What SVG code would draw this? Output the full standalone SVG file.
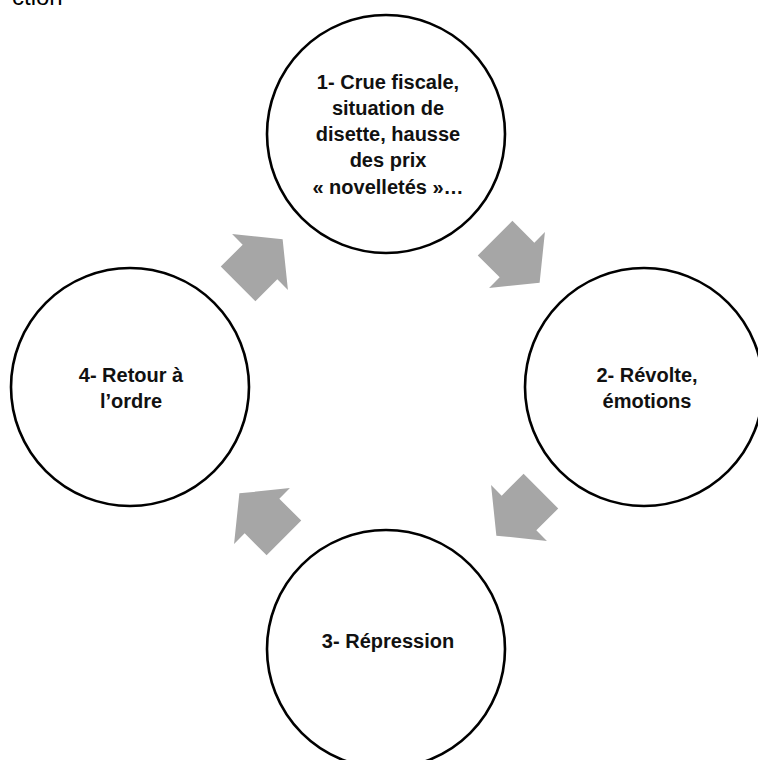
<svg xmlns="http://www.w3.org/2000/svg" width="758" height="760" viewBox="0 0 758 760">
<defs>
<style>
.node circle{fill:#fff;stroke:#000;stroke-width:2.6}
.lbl{font-family:"Liberation Sans",Arial,sans-serif;font-weight:bold;font-size:20px;fill:#111;text-anchor:middle}
.arr{fill:#A6A6A6}
</style>
<path id="blk" d="M-31,-24.5 L0,-24.5 L0,-39.5 L32,0 L0,39.5 L0,24.5 L-31,24.5 Z"/>
</defs>
<rect width="758" height="760" fill="#fff"/>
<text x="12" y="5" font-family="Liberation Sans,Arial,sans-serif" font-size="24" fill="#000">ction</text>
<g id="connectors" class="arr">
<use href="#blk" transform="translate(260,262) rotate(-45)"/>
<use href="#blk" transform="translate(517,260) rotate(45)"/>
<use href="#blk" transform="translate(519,513) rotate(135)"/>
<use href="#blk" transform="translate(262,516) rotate(-135)"/>
</g>
<g id="node1" class="node">
<circle cx="386" cy="134" r="119"/>
<text class="lbl"><tspan x="388" y="89">1- Crue fiscale,</tspan><tspan x="388" y="115">situation de</tspan><tspan x="388" y="141">disette, hausse</tspan><tspan x="388" y="167">des prix</tspan><tspan x="388" y="194">« novelletés »…</tspan></text>
</g>
<g id="node2" class="node">
<circle cx="644" cy="387" r="119"/>
<text class="lbl"><tspan x="647" y="382">2- Révolte,</tspan><tspan x="647" y="408">émotions</tspan></text>
</g>
<g id="node3" class="node">
<circle cx="386" cy="649" r="119"/>
<text class="lbl"><tspan x="388" y="648">3- Répression</tspan></text>
</g>
<g id="node4" class="node">
<circle cx="130" cy="387" r="119"/>
<text class="lbl"><tspan x="131" y="382">4- Retour à</tspan><tspan x="131" y="408">l’ordre</tspan></text>
</g>
</svg>
